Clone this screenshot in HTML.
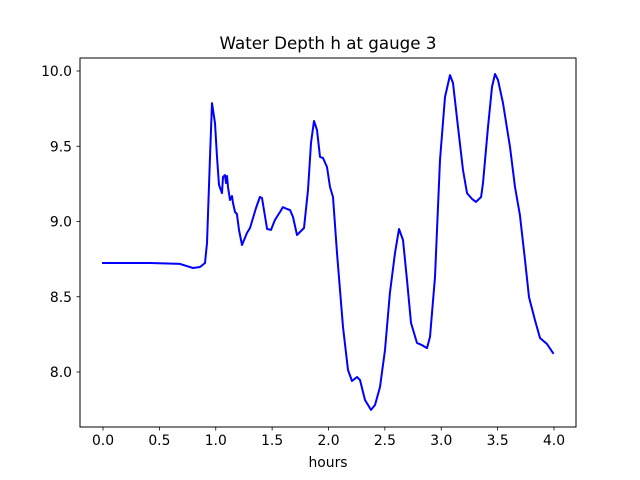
<!DOCTYPE html>
<html><head><meta charset="utf-8"><style>
body{margin:0;background:#fff}
svg{display:block;font-family:"DejaVu Sans","Liberation Sans",sans-serif}
</style></head><body>
<svg id="chart" width="640" height="480">
<rect x="0" y="0" width="640" height="480" fill="#fff"/>
<text x="328" y="49" text-anchor="middle" font-size="16.7">Water Depth h at gauge 3</text>
<g id="plot"></g>
<rect x="80" y="58" width="496" height="369" fill="none" stroke="#000" stroke-width="1"/>
<text x="328" y="467" text-anchor="middle" font-size="13.9">hours</text>
</svg>
<script>
const times=[0,0.417,0.683,0.798,0.860,0.905,0.922,0.949,0.967,0.993,1.011,1.029,1.055,1.064,1.082,1.091,1.100,1.109,1.126,1.144,1.153,1.171,1.188,1.206,1.233,1.277,1.304,1.330,1.357,1.392,1.410,1.455,1.490,1.525,1.570,1.596,1.632,1.659,1.685,1.721,1.783,1.818,1.845,1.871,1.898,1.925,1.951,1.987,2.013,2.040,2.075,2.129,2.173,2.208,2.253,2.279,2.324,2.377,2.412,2.457,2.501,2.545,2.590,2.625,2.661,2.696,2.732,2.785,2.829,2.874,2.900,2.945,2.989,3.033,3.078,3.104,3.149,3.193,3.228,3.273,3.308,3.353,3.370,3.415,3.450,3.477,3.503,3.548,3.610,3.654,3.698,3.743,3.778,3.831,3.876,3.938,3.991];
const depths=[8.724,8.724,8.718,8.691,8.698,8.724,8.857,9.429,9.787,9.654,9.429,9.243,9.189,9.296,9.309,9.256,9.302,9.229,9.143,9.169,9.123,9.063,9.050,8.944,8.844,8.924,8.957,9.023,9.090,9.163,9.156,8.950,8.944,9.010,9.063,9.096,9.083,9.076,9.030,8.910,8.957,9.209,9.522,9.668,9.608,9.429,9.422,9.362,9.229,9.163,8.791,8.299,8.013,7.940,7.967,7.947,7.814,7.748,7.781,7.900,8.146,8.525,8.791,8.950,8.877,8.611,8.326,8.193,8.179,8.159,8.233,8.631,9.409,9.827,9.973,9.920,9.628,9.342,9.189,9.150,9.130,9.163,9.256,9.628,9.894,9.980,9.940,9.787,9.495,9.229,9.043,8.744,8.498,8.346,8.226,8.186,8.126];
const xTicks=[0,0.5,1,1.5,2,2.5,3,3.5,4];
const xTickLabels=["0.0","0.5","1.0","1.5","2.0","2.5","3.0","3.5","4.0"];
const yTicks=[8,8.5,9,9.5,10];
const yTickLabels=["8.0","8.5","9.0","9.5","10.0"];
const NS="http://www.w3.org/2000/svg";
const g=document.getElementById('plot');
const X=t=>103+t*112.75;
const Y=h=>71+(10-h)*150.5;
function mk(tag,attrs){const e=document.createElementNS(NS,tag);for(const k in attrs)e.setAttribute(k,attrs[k]);g.appendChild(e);return e;}
xTicks.forEach((v,i)=>{
  const l=mk('line',{x1:X(v),x2:X(v),y1:427,y2:430.5,stroke:'#000','stroke-width':0.8});
  
  
  const t=mk('text',{x:X(v),y:445,'text-anchor':'middle','font-size':13.9});
  t.textContent=xTickLabels[i];
  
  
});
yTicks.forEach((v,i)=>{
  const l=mk('line',{x1:76.5,x2:80,y1:Y(v),y2:Y(v),stroke:'#000','stroke-width':0.8});
  
  
  const t=mk('text',{x:72,y:Y(v)+5,'text-anchor':'end','font-size':13.9});
  t.textContent=yTickLabels[i];
  
  
});
const pts=times.map((t,i)=>X(t).toFixed(1)+','+Y(depths[i]).toFixed(1)).join(' ');
const line=mk('polyline',{points:pts,fill:'none',stroke:'#0000ff','stroke-width':2,'stroke-linejoin':'round','stroke-linecap':'square'});


</script>
</body></html>
